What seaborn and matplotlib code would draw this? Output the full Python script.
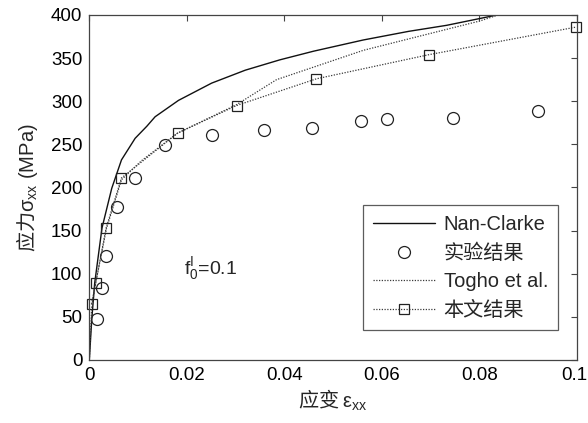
import matplotlib
matplotlib.use("Agg")
import matplotlib.pyplot as plt
import matplotlib.transforms as mtransforms
import pandas as pd
import seaborn as sns

# Nan-Clarke model curve
nan_clarke_strain = [0, 0.0005, 0.0011, 0.0026, 0.0046, 0.0066, 0.0094, 0.0118,
                     0.0135, 0.0183, 0.0251, 0.032, 0.0391, 0.046, 0.0562,
                     0.0655, 0.0733, 0.0802, 0.0845]
nan_clarke_stress = [0, 47, 89, 153, 199, 232, 257, 271, 282, 301, 321, 336,
                     348, 358, 371, 381, 388, 396, 401]

# Experimental points
exp_strain = [0.0015, 0.0026, 0.0035, 0.0057, 0.0093, 0.0155, 0.0252, 0.0358,
              0.0456, 0.0558, 0.0611, 0.0746, 0.092]
exp_stress = [48, 83, 120, 177, 211, 249, 261, 267, 269, 277, 279, 280, 289]

# Togho et al. curve
togho_strain = [0, 0.0005, 0.0013, 0.0035, 0.0066, 0.0107, 0.0181, 0.0302,
                0.0384, 0.0562, 0.0801, 0.086]
togho_stress = [0, 62, 89, 152, 209, 231, 263, 296, 325, 359, 393, 404]

# Present results
present_strain = [0.00045, 0.0013, 0.00345, 0.0066, 0.0181, 0.0302, 0.0466,
                  0.0697, 0.0999]
present_stress = [65, 89, 153, 211, 263, 295, 326, 354, 386]

x_ticks = [0, 0.02, 0.04, 0.06, 0.08, 0.1]
x_tick_labels = ["0", "0.02", "0.04", "0.06", "0.08", "0.1"]
y_ticks = [0, 50, 100, 150, 200, 250, 300, 350, 400]

labels = ["Nan-Clarke", "实验结果", "Togho et al.", "本文结果"]

sns.set_theme(style="white")
plt.rcParams["font.family"] = ["Liberation Sans", "Noto Sans CJK SC"]
plt.rcParams["mathtext.fontset"] = "custom"
plt.rcParams["mathtext.rm"] = "Liberation Sans"
plt.rcParams["mathtext.it"] = "Liberation Sans:italic"
plt.rcParams["axes.unicode_minus"] = False

fig = plt.figure(figsize=(5.88, 4.23), dpi=100)
ax = fig.add_axes([0.1519, 0.149, 0.829, 0.8156])

nc = pd.DataFrame({"strain": nan_clarke_strain, "stress": nan_clarke_stress})
ex = pd.DataFrame({"strain": exp_strain, "stress": exp_stress})
tg = pd.DataFrame({"strain": togho_strain, "stress": togho_stress})
pr = pd.DataFrame({"strain": present_strain, "stress": present_stress})

dotted = (0, (1, 1.2))

sns.lineplot(data=nc, x="strain", y="stress", ax=ax, sort=False, estimator=None,
             color="#111111", linewidth=1.0, label=labels[0])
sns.lineplot(data=ex, x="strain", y="stress", ax=ax, sort=False, estimator=None,
             linestyle="none", marker="o", markersize=8.6,
             markerfacecolor="none", markeredgecolor="#222222",
             markeredgewidth=0.9, color="#222222", label=labels[1])
sns.lineplot(data=tg, x="strain", y="stress", ax=ax, sort=False, estimator=None,
             color="#3a3a3a", linewidth=0.9, linestyle=dotted,
             label=labels[2])
sns.lineplot(data=pr, x="strain", y="stress", ax=ax, sort=False, estimator=None,
             color="#3a3a3a", linewidth=0.9, linestyle=dotted,
             marker="s", markersize=7, markerfacecolor="none",
             markeredgecolor="#222222", markeredgewidth=0.9,
             clip_on=False, label=labels[3])

ax.set_xlim(0, 0.1)
ax.set_ylim(0, 400)
ax.set_xticks(x_ticks)
ax.set_xticklabels(x_tick_labels)
ax.set_yticks(y_ticks)
ax.tick_params(axis="both", which="both", direction="in", length=4,
               width=0.8, color="#444444", labelsize=13.5, labelcolor="black",
               top=True, right=True)
ax.tick_params(axis="y", pad=5)
ax.tick_params(axis="x", pad=5)
for s in ax.spines.values():
    s.set_color("#444444")
    s.set_linewidth(0.9)

# keep the last x tick label inside the canvas
last = ax.get_xticklabels()[-1]
last.set_transform(last.get_transform()
                   + mtransforms.ScaledTranslation(-2.5 / 100, 0,
                                                   fig.dpi_scale_trans))

cjk = ["Noto Sans CJK SC"]
ax.set_xlabel("应变 $\\mathrm{ε_{xx}}$", fontsize=14.5, family=cjk, labelpad=3)
ax.set_ylabel("应力$\\mathrm{σ_{xx}\\ (MPa)}$", fontsize=14.5, family=cjk,
              labelpad=8)

ax.text(0.0194, 106, "$\\mathrm{f}_{0}^{\\mathrm{I}}$=0.1", fontsize=14,
        va="center", ha="left")

leg = ax.legend(loc="upper left", bbox_to_anchor=(0.5614, 0.448),
                borderaxespad=0, fontsize=14.5, frameon=True, fancybox=False,
                handlelength=3.1, handletextpad=0.4, labelspacing=0.46,
                borderpad=0.5)
leg.get_frame().set_edgecolor("#333333")
leg.get_frame().set_linewidth(0.9)
for t in leg.get_texts():
    t.set_family(["Liberation Sans", "Noto Sans CJK SC"])

fig.savefig("out.png", dpi=100, facecolor="white")
